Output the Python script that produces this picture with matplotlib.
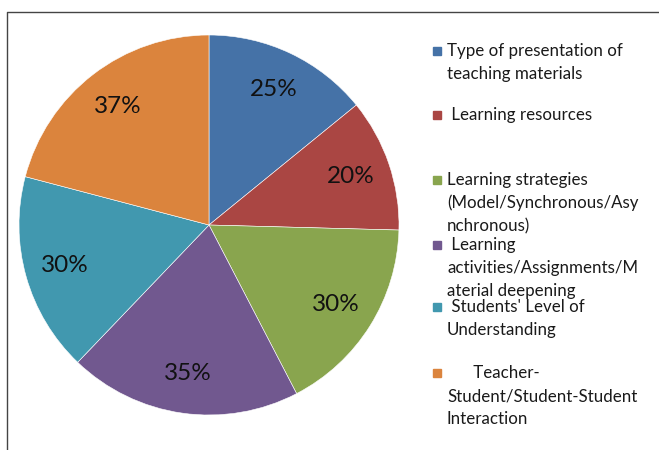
import matplotlib
matplotlib.use('Agg')
import matplotlib.pyplot as plt
import numpy as np
from matplotlib.lines import Line2D
from matplotlib.patches import Rectangle

# values shown on the slices (the labels print the raw value as a percent)
categories = [
    'Type of presentation of\nteaching materials',
    ' Learning resources',
    'Learning strategies\n(Model/Synchronous/Asy\nnchronous)',
    ' Learning\nactivities/Assignments/M\naterial deepening',
    ' Students\' Level of\nUnderstanding',
    '      Teacher-\nStudent/Student-Student\nInteraction',
]
values = [25, 20, 30, 35, 30, 37]
colors = ['#4572A7', '#AA4643', '#89A54E', '#71588F', '#4198AF', '#DB843D']

plt.rcParams['font.family'] = ['Lato', 'DejaVu Sans']

W, H = 659, 450
fig = plt.figure(figsize=(W / 100, H / 100), dpi=100)

# pie centred at (209, 225) px with radius 190 px
cx, cy, r = 209, 225, 190
ax = fig.add_axes([(cx - r) / W, (H - cy - r) / H, 2 * r / W, 2 * r / H])
ax.pie(values, colors=colors, startangle=90, counterclock=False,
       wedgeprops=dict(edgecolor='white', linewidth=0.4))
ax.set_xlim(-1, 1)
ax.set_ylim(-1, 1)
ax.set_aspect('equal')

# put the raw values as labels
total = sum(values)
ang0 = 90.0
for v in values:
    span = 360.0 * v / total
    mid = np.deg2rad(ang0 - span / 2)
    ax.text(0.79 * np.cos(mid), 0.79 * np.sin(mid), f'{v}%',
            ha='center', va='center', fontsize=17.5, color='#111111')
    ang0 -= span

# legend, placed by hand to follow the original's uneven spacing
legend_y = [51, 115, 180, 245, 307, 373]
line_h = 23
for lab, col, y in zip(categories, colors, legend_y):
    fig.add_artist(Rectangle((433 / W, 1 - (y + 4) / H), 8 / W, 8 / H,
                             transform=fig.transFigure, color=col))
    for i, line in enumerate(lab.split('\n')):
        fig.text(447 / W, 1 - (y + i * line_h) / H, line, fontsize=12.2,
                 ha='left', va='center', color='#1a1a1a')

# outer frame (left and top edges visible)
fig.add_artist(Line2D([7 / W, 7 / W, 1], [0, 1 - 12 / H, 1 - 12 / H],
                      transform=fig.transFigure, color='#444444', linewidth=1))

fig.savefig('out.png', dpi=100)
